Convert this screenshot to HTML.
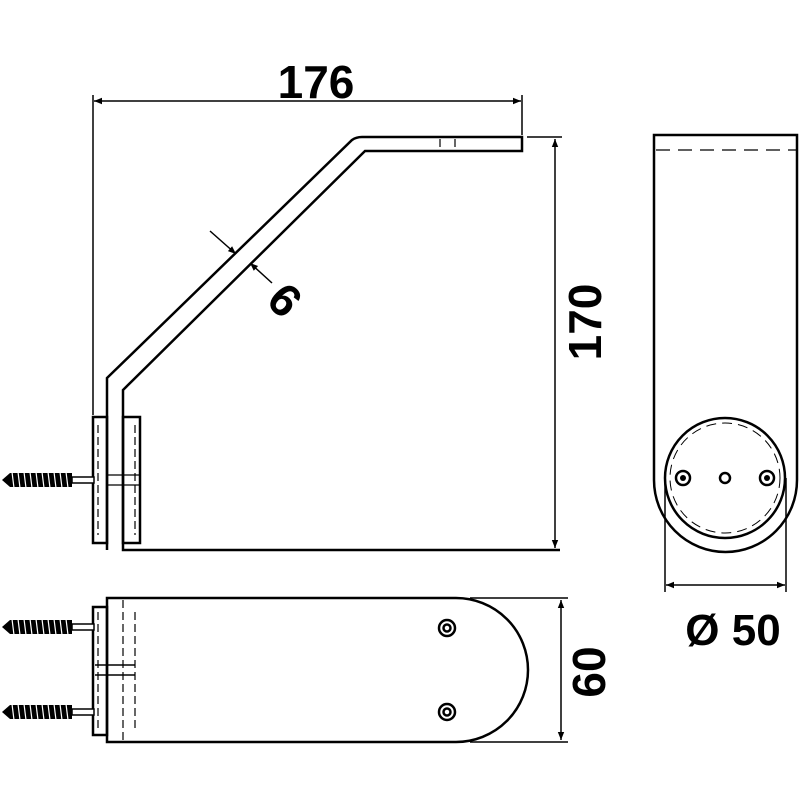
<!DOCTYPE html>
<html><head><style>html,body{margin:0;padding:0;background:#fff}svg{display:block}</style></head><body>
<svg width="800" height="800" viewBox="0 0 800 800" xmlns="http://www.w3.org/2000/svg">
<defs>
<marker id="a" viewBox="0 0 10 10" refX="10" refY="5" markerWidth="10" markerHeight="8" orient="auto-start-reverse" markerUnits="userSpaceOnUse"><path d="M0,1 L10,5 L0,9 z" fill="#000"/></marker>
<g id="screw">
<rect x="72" y="-3" width="22" height="6" fill="#fff" stroke="#000" stroke-width="1.5"/>
<path d="M2,0 L10,-7 L72,-7 L72,7 L10,7 Z" fill="#000"/>
<path d="M12,-8 L14,8 M18,-8 L20,8 M24,-8 L26,8 M30,-8 L32,8 M36,-8 L38,8 M42,-8 L44,8 M48,-8 L50,8 M54,-8 L56,8 M60,-8 L62,8 M66,-8 L68,8" stroke="#fff" stroke-width="1.2"/>
</g>
</defs>
<g fill="none" stroke="#000" stroke-width="2.5">
<path d="M107,550 L107,378 L352,140 Q356,137 362,137 L522,137 L522,151 L365,151 L123,390 L123,550 L560,550"/>
<rect x="93" y="417" width="14" height="126"/>
<rect x="123" y="417" width="17" height="126"/>
</g>
<g fill="none" stroke="#000" stroke-width="1.2" stroke-dasharray="8,4">
<path d="M98,425 V535 M135,425 V535"/>
<path d="M440,139 V149 M455,139 V149"/>
</g>
<use href="#screw" transform="translate(0,480)"/>
<path d="M107,475 H140 M107,485 H140" stroke="#000" stroke-width="1.2"/>
<g stroke="#000" stroke-width="1.5" fill="none">
<path d="M93,95 V415 M522,95 V135"/>
<path d="M94,101 H521" marker-start="url(#a)" marker-end="url(#a)"/>
<path d="M527,137 H562"/>
<path d="M555,139 V548" marker-start="url(#a)" marker-end="url(#a)"/>
<path d="M210,231 L236,254" marker-end="url(#a)"/>
<path d="M272,283 L250,263" marker-end="url(#a)"/>
</g>
<text x="316" y="98" font-family="Liberation Sans, sans-serif" font-weight="bold" font-size="46" text-anchor="middle">176</text>
<text transform="translate(601,322) rotate(-90)" font-family="Liberation Sans, sans-serif" font-weight="bold" font-size="46" text-anchor="middle">170</text>
<text transform="translate(285,300) rotate(45)" font-family="Liberation Sans, sans-serif" font-weight="bold" font-size="46" text-anchor="middle" dominant-baseline="central">6</text>
<g fill="none" stroke="#000" stroke-width="2.5">
<path d="M107,598 L456,598 A72,72 0 0 1 456,742 L107,742 Z"/>
<rect x="93" y="607" width="14" height="128"/>
<circle cx="447" cy="628" r="8"/><circle cx="447" cy="628" r="3.5"/>
<circle cx="447" cy="712" r="8"/><circle cx="447" cy="712" r="3.5"/>
</g>
<g fill="none" stroke="#000" stroke-width="1.2" stroke-dasharray="8,4">
<path d="M123,600 V740 M98,612 V730 M135,612 V730"/>
</g>
<path d="M95,665 H135 M95,675 H135" stroke="#000" stroke-width="1.5"/>
<use href="#screw" transform="translate(0,627)"/>
<use href="#screw" transform="translate(0,712)"/>
<g stroke="#000" stroke-width="1.5" fill="none">
<path d="M470,598 H568 M470,742 H568"/>
<path d="M561,600 V740" marker-start="url(#a)" marker-end="url(#a)"/>
</g>
<text transform="translate(605,672) rotate(-90)" font-family="Liberation Sans, sans-serif" font-weight="bold" font-size="46" text-anchor="middle">60</text>
<g fill="none" stroke="#000" stroke-width="2.5">
<path d="M654,480 L654,135 L797,135 L797,480 A71.5,72 0 0 1 654,480"/>
<circle cx="725" cy="478" r="60"/>
<circle cx="683" cy="478" r="7"/><circle cx="767" cy="478" r="7"/>
<circle cx="725" cy="478" r="5"/>
</g>
<circle cx="683" cy="478" r="3" fill="#000"/><circle cx="767" cy="478" r="3" fill="#000"/>
<circle cx="725" cy="478" r="55" fill="none" stroke="#000" stroke-width="1" stroke-dasharray="10,6"/>
<path d="M656,150 H797" stroke="#000" stroke-width="1.2" stroke-dasharray="14,8" fill="none"/>
<g stroke="#000" stroke-width="1.5" fill="none">
<path d="M665,478 V592 M786,478 V592"/>
<path d="M666,585 H785" marker-start="url(#a)" marker-end="url(#a)"/>
</g>
<text x="733" y="645" font-family="Liberation Sans, sans-serif" font-weight="bold" font-size="44" text-anchor="middle">Ø 50</text>
</svg>
</body></html>
